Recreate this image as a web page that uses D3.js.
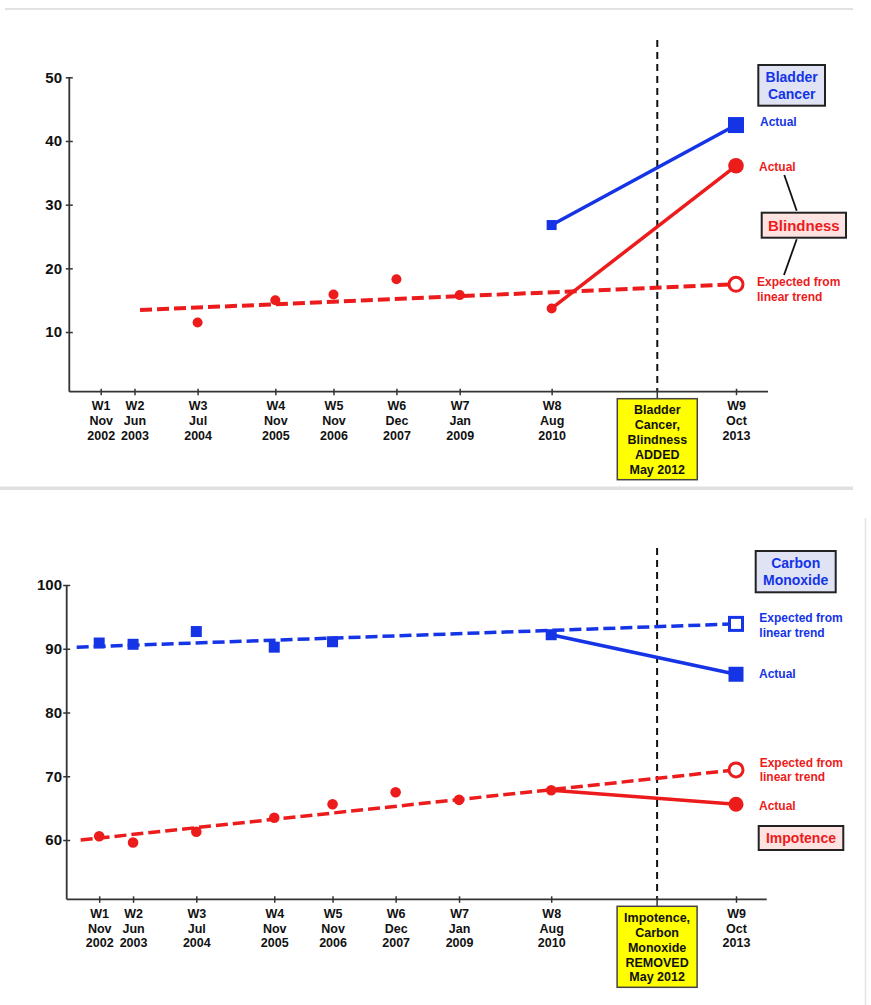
<!DOCTYPE html>
<html><head><meta charset="utf-8">
<script src="https://cdn.jsdelivr.net/npm/d3@7"></script>
<style>
html,body{margin:0;padding:0;background:#fff;}
svg{display:block;font-family:"Liberation Sans",Arial,Helvetica,sans-serif;font-weight:bold;}
</style></head><body>
<svg id="chart" width="871" height="1005"></svg>
<script>
// ---------------- data ----------------
const waveNames  = ["W1","W2","W3","W4","W5","W6","W7","W8","W9"];
const waveMonths = ["Nov","Jun","Jul","Nov","Nov","Dec","Jan","Aug","Oct"];
const waveYears  = ["2002","2003","2004","2005","2006","2007","2009","2010","2013"];
const waveDates  = ["2002-11-01","2003-06-01","2004-07-01","2005-11-01","2006-11-01","2007-12-01","2009-01-01","2010-08-01","2013-10-01"];

const eventDate = "2012-05-25";
const addedLabel   = ["Bladder","Cancer,","Blindness","ADDED","May 2012"];
const removedLabel = ["Impotence,","Carbon","Monoxide","REMOVED","May 2012"];

const topYTicks    = [10,20,30,40,50];
const bottomYTicks = [60,70,80,90,100];

// top panel: added topics
const blindnessWaves      = ["W3","W4","W5","W6","W7","W8"];
const blindnessValues     = [11.5,15.0,15.9,18.3,15.8,13.7];
const blindnessActualW9   = 36.1;
const blindnessExpectedW9 = 17.5;
const blindnessTrendStart = ["2003-07-06", 13.45];

const bladderWaves  = ["W8","W9"];
const bladderValues = [26.8, 42.5];

// bottom panel: removed topics
const carbonWaves      = ["W1","W2","W3","W4","W5","W8"];
const carbonValues     = [90.9,90.7,92.7,90.25,91.1,92.2];
const carbonActualW9   = 86.0;
const carbonExpectedW9 = 93.9;
const carbonTrendStart = ["2002-06-13", 90.25];

const impotenceWaves      = ["W1","W2","W3","W4","W5","W6","W7","W8"];
const impotenceValues     = [60.6,59.6,61.3,63.5,65.6,67.5,66.3,67.8];
const impotenceActualW9   = 65.6;
const impotenceExpectedW9 = 71.0;
const impotenceTrendStart = ["2002-07-08", 60.0];

// ---------------- style ----------------
const BLUE = "#1434e6", RED = "#ec1c1c", AXIS = "#333";
const parse = d3.timeParse("%Y-%m-%d");
const svg = d3.select("#chart");

// page decorations
svg.append("line").attr("x1",5).attr("x2",853).attr("y1",9).attr("y2",9).attr("stroke","#e2e2e2").attr("stroke-width",2);
svg.append("rect").attr("x",0).attr("y",486.5).attr("width",853).attr("height",3.5).attr("fill","#e0e0e0");
svg.append("line").attr("x1",865.5).attr("x2",865.5).attr("y1",518).attr("y2",1005).attr("stroke","#e4e4e4").attr("stroke-width",1.5);

function panel(cfg){
  const g = svg.append("g");
  const x = d3.scaleTime().domain([parse(waveDates[0]), parse(waveDates[8])]).range(cfg.xRange);
  const y = d3.scaleLinear().domain(cfg.yDomain).range(cfg.yRange);
  const wx = w => x(parse(waveDates[waveNames.indexOf(w)]));

  const ex = x(parse(eventDate));
  g.append("line").attr("x1",ex).attr("x2",ex).attr("y1",cfg.eventTop).attr("y2",cfg.axisY)
    .attr("stroke","#111").attr("stroke-width",2).attr("stroke-dasharray","7,5");

  const yAx = g.append("g").attr("transform",`translate(${cfg.axisX},0)`)
    .call(d3.axisLeft(y).tickValues(cfg.yTicks).tickSize(0).tickPadding(cfg.axisX-62));
  yAx.select(".domain").remove();
  yAx.selectAll(".tick line").attr("x1",-3.5).attr("x2",3.5).attr("stroke",AXIS).attr("stroke-width",1.5);
  yAx.selectAll(".tick text").attr("font-size",15).attr("font-family","inherit").attr("font-weight","bold").attr("fill","#111");
  g.append("line").attr("x1",cfg.axisX).attr("x2",cfg.axisX)
    .attr("y1",y(d3.max(cfg.yTicks))).attr("y2",cfg.axisY).attr("stroke",AXIS).attr("stroke-width",1.8);

  const xAx = g.append("g").attr("transform",`translate(0,${cfg.axisY})`)
    .call(d3.axisBottom(x).tickValues(waveDates.map(parse)).tickSize(0).tickFormat(""));
  xAx.select(".domain").remove();
  xAx.selectAll(".tick line").attr("y1",-3).attr("y2",3.5).attr("stroke",AXIS).attr("stroke-width",1.5);
  xAx.selectAll(".tick text").remove();
  xAx.selectAll(".tick").each(function(d,i){
    const t = d3.select(this).append("text").attr("text-anchor","middle").attr("font-size",12.5)
      .attr("fill","#111").attr("font-weight","bold").attr("font-family","inherit");
    [waveNames[i],waveMonths[i],waveYears[i]].forEach((s,k)=>{
      t.append("tspan").attr("x",0).attr("y",18.8+k*14.7).text(s);
    });
  });
  g.append("line").attr("x1",cfg.axisX).attr("x2",cfg.xEnd).attr("y1",cfg.axisY).attr("y2",cfg.axisY)
    .attr("stroke",AXIS).attr("stroke-width",1.8);
  g.append("line").attr("x1",ex).attr("x2",ex).attr("y1",cfg.axisY-3).attr("y2",cfg.axisY+7)
    .attr("stroke",AXIS).attr("stroke-width",1.5);

  const bw = 80, bh = 81, by = cfg.axisY+7;
  g.append("rect").attr("x",ex-bw/2).attr("y",by).attr("width",bw).attr("height",bh)
    .attr("fill","#ffff00").attr("stroke","#444").attr("stroke-width",1.5);
  const bt = g.append("text").attr("text-anchor","middle").attr("font-size",12.5).attr("fill","#111");
  cfg.eventLabel.forEach((s,k)=>bt.append("tspan").attr("x",ex).attr("y",by+15.5+k*14.9).text(s));

  return {g,x,y,wx};
}

function trend(p, start, endVal, color, w){
  p.g.append("line")
    .attr("x1",p.x(parse(start[0]))).attr("y1",p.y(start[1]))
    .attr("x2",p.wx("W9")).attr("y2",p.y(endVal))
    .attr("stroke",color).attr("stroke-width",w).attr("stroke-dasharray","12,5");
}
function solid(p, w1, v1, w2, v2, color){
  p.g.append("line").attr("x1",p.wx(w1)).attr("y1",p.y(v1)).attr("x2",p.wx(w2)).attr("y2",p.y(v2))
    .attr("stroke",color).attr("stroke-width",3.5);
}
function circles(p, waves, vals, r, color){
  p.g.selectAll(null).data(waves.map((w,i)=>[w,vals[i]])).join("circle")
    .attr("cx",d=>p.wx(d[0])).attr("cy",d=>p.y(d[1])).attr("r",r).attr("fill",color);
}
function squares(p, waves, vals, s, color){
  p.g.selectAll(null).data(waves.map((w,i)=>[w,vals[i]])).join("rect")
    .attr("x",d=>p.wx(d[0])-s/2).attr("y",d=>p.y(d[1])-s/2).attr("width",s).attr("height",s).attr("fill",color);
}
function label(g, x, y, lines, color, size, anchor){
  const t = g.append("text").attr("font-size",size).attr("fill",color).attr("text-anchor",anchor||"start");
  lines.forEach((s,k)=>t.append("tspan").attr("x",x).attr("y",y+k*14.5).text(s));
  return t;
}
function box(g, x, y, w, h, fill, lines, color, size, lh){
  g.append("rect").attr("x",x).attr("y",y).attr("width",w).attr("height",h)
    .attr("fill",fill).attr("stroke","#222").attr("stroke-width",2);
  const t = g.append("text").attr("font-size",size).attr("fill",color).attr("text-anchor","middle");
  const y0 = y + h/2 - (lines.length-1)*lh/2 + size*0.36;
  lines.forEach((s,k)=>t.append("tspan").attr("x",x+w/2).attr("y",y0+k*lh).text(s));
}

// ---------------- top panel ----------------
const topPanel = panel({xRange:[100.7,736], axisX:69.3, xEnd:768, axisY:391.7,
  yDomain:[0.63,50], yRange:[391.7,77.3], yTicks:topYTicks, eventTop:40, eventLabel:addedLabel});

trend(topPanel, blindnessTrendStart, blindnessExpectedW9, RED, 4);
solid(topPanel, "W8", bladderValues[0], "W9", bladderValues[1], BLUE);
solid(topPanel, "W8", blindnessValues[blindnessValues.length-1], "W9", blindnessActualW9, RED);
circles(topPanel, blindnessWaves, blindnessValues, 5, RED);
squares(topPanel, ["W8"], [bladderValues[0]], 10, BLUE);
squares(topPanel, ["W9"], [bladderValues[1]], 16, BLUE);
circles(topPanel, ["W9"], [blindnessActualW9], 7.8, RED);
topPanel.g.append("circle").attr("cx",topPanel.wx("W9")).attr("cy",topPanel.y(blindnessExpectedW9)).attr("r",7)
  .attr("fill","#fff").attr("stroke",RED).attr("stroke-width",3);

box(topPanel.g, 758.3, 65, 66.7, 40.7, "#dfe3f3", ["Bladder","Cancer"], BLUE, 14, 17);
label(topPanel.g, 760, 126, ["Actual"], BLUE, 12);
label(topPanel.g, 759, 171, ["Actual"], RED, 12);
box(topPanel.g, 761.7, 212.7, 84.3, 25, "#fde2e2", ["Blindness"], RED, 15, 17);
topPanel.g.append("line").attr("x1",784.3).attr("y1",175).attr("x2",796.7).attr("y2",210.7).attr("stroke","#111").attr("stroke-width",1.8);
topPanel.g.append("line").attr("x1",796.7).attr("y1",239.3).attr("x2",784).attr("y2",275).attr("stroke","#111").attr("stroke-width",1.8);
label(topPanel.g, 757, 286, ["Expected from","linear trend"], RED, 12);

// ---------------- bottom panel ----------------
const botPanel = panel({xRange:[99.2,736], axisX:66.7, xEnd:766.7, axisY:899.3,
  yDomain:[50.7,100], yRange:[899.3,585], yTicks:bottomYTicks, eventTop:548, eventLabel:removedLabel});

trend(botPanel, carbonTrendStart, carbonExpectedW9, BLUE, 3.5);
trend(botPanel, impotenceTrendStart, impotenceExpectedW9, RED, 3.5);
solid(botPanel, "W8", carbonValues[carbonValues.length-1], "W9", carbonActualW9, BLUE);
solid(botPanel, "W8", impotenceValues[impotenceValues.length-1], "W9", impotenceActualW9, RED);
squares(botPanel, carbonWaves, carbonValues, 11, BLUE);
circles(botPanel, impotenceWaves, impotenceValues, 5.3, RED);
squares(botPanel, ["W9"], [carbonActualW9], 15, BLUE);
botPanel.g.append("rect").attr("x",botPanel.wx("W9")-6.5).attr("y",botPanel.y(carbonExpectedW9)-6.5).attr("width",13).attr("height",13)
  .attr("fill","#fff").attr("stroke",BLUE).attr("stroke-width",3);
circles(botPanel, ["W9"], [impotenceActualW9], 7.5, RED);
botPanel.g.append("circle").attr("cx",botPanel.wx("W9")).attr("cy",botPanel.y(impotenceExpectedW9)).attr("r",7)
  .attr("fill","#fff").attr("stroke",RED).attr("stroke-width",3);

box(botPanel.g, 755.7, 551, 80, 41.3, "#dfe3f3", ["Carbon","Monoxide"], BLUE, 14, 17);
label(botPanel.g, 759.3, 622, ["Expected from","linear trend"], BLUE, 12);
label(botPanel.g, 759, 678.3, ["Actual"], BLUE, 12);
label(botPanel.g, 759.7, 766.5, ["Expected from","linear trend"], RED, 12);
label(botPanel.g, 759, 809.5, ["Actual"], RED, 12);
box(botPanel.g, 758.7, 826, 84.6, 24, "#fde2e2", ["Impotence"], RED, 14, 17);
</script>
</body></html>
